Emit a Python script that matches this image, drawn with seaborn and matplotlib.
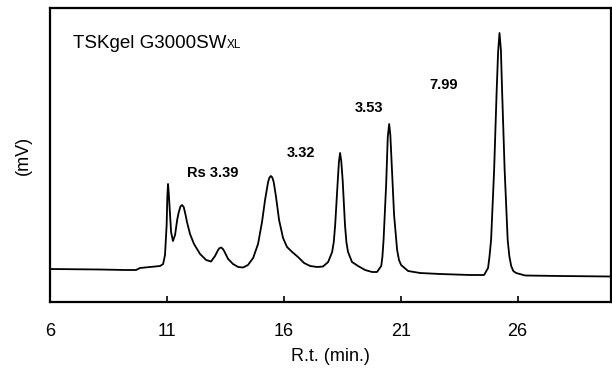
import matplotlib
matplotlib.use("Agg")
import matplotlib.pyplot as plt
import seaborn as sns
import pandas as pd

# Chromatogram trace: retention time (min) and detector signal (arbitrary mV scale)
rt_min = [
    6.00, 8.14, 9.21, 9.68, 9.85, 10.28, 10.71, 10.84, 10.92, 10.99,
    11.02, 11.05, 11.08, 11.11, 11.18, 11.26, 11.35, 11.44, 11.50, 11.58,
    11.65, 11.72, 11.80, 11.86, 11.99, 12.16, 12.42, 12.68, 12.89, 13.06,
    13.19, 13.25, 13.32, 13.39, 13.45, 13.62, 13.83, 14.05, 14.26, 14.47,
    14.69, 14.90, 15.07, 15.20, 15.33, 15.39, 15.45, 15.51, 15.57, 15.67,
    15.80, 15.97, 16.14, 16.36, 16.61, 16.87, 17.13, 17.43, 17.68, 17.90,
    18.07, 18.14, 18.20, 18.30, 18.36, 18.41, 18.46, 18.52, 18.62, 18.68,
    18.75, 18.92, 19.18, 19.48, 19.78, 19.99, 20.17, 20.22, 20.27, 20.38,
    20.45, 20.51, 20.56, 20.61, 20.72, 20.85, 20.93, 21.02, 21.32, 21.83,
    22.69, 23.97, 24.57, 24.74, 24.80, 24.87, 25.00, 25.11, 25.17, 25.23,
    25.29, 25.34, 25.45, 25.58, 25.65, 25.73, 25.82, 25.94, 26.33, 27.83,
    30.00,
]
signal_mv = [
    33.0, 32.5, 32.0, 32.0, 34.0, 35.0, 36.0, 38.0, 47.0, 77.0,
    106.0, 118.0, 109.0, 97.0, 70.0, 61.0, 67.0, 82.0, 89.0, 95.5,
    97.0, 95.0, 87.0, 80.0, 68.0, 58.0, 48.0, 42.0, 40.5, 46.0,
    52.0, 53.8, 54.5, 53.2, 51.0, 43.0, 38.0, 35.0, 34.5, 37.0,
    44.0, 58.0, 80.0, 102.0, 120.0, 124.5, 126.0, 124.5, 120.0, 105.0,
    82.0, 64.0, 55.0, 50.0, 45.0, 39.0, 36.0, 35.0, 35.5, 40.0,
    50.0, 60.0, 77.0, 117.0, 140.0, 149.0, 141.0, 122.0, 77.0, 60.0,
    50.0, 40.0, 36.0, 32.0, 30.0, 30.0, 36.0, 45.0, 62.0, 117.0,
    165.0, 178.0, 167.0, 142.0, 87.0, 52.0, 42.0, 37.0, 31.0, 29.0,
    28.0, 27.0, 27.0, 34.0, 45.0, 62.0, 132.0, 212.0, 250.0, 269.0,
    252.0, 212.0, 132.0, 62.0, 46.0, 36.0, 31.0, 29.0, 26.5, 26.0,
    25.5,
]

# Resolution (Rs) labels between neighbouring peaks
rs_text = ["Rs 3.39", "3.32", "3.53", "7.99"]
rs_rt = [12.98, 16.74, 19.65, 22.86]
rs_level = [129, 149, 194, 217]

x_ticks = [6, 11, 16, 21, 26]

sns.set_theme(style="ticks")
plt.rcParams["font.family"] = ["Liberation Sans", "DejaVu Sans"]

fig = plt.figure(figsize=(6.12, 3.71), dpi=100)
ax = fig.add_axes([50 / 612, 69 / 371, 561 / 612, 294 / 371])

df = pd.DataFrame({"rt": rt_min, "mv": signal_mv})
sns.lineplot(data=df, x="rt", y="mv", ax=ax, color="black", linewidth=1.3,
             sort=False, estimator=None)

ax.set_xlim(6, 30)
ax.set_ylim(0, 294)
ax.set_xticks(x_ticks)
ax.set_xticklabels([str(t) for t in x_ticks], fontsize=13)
ax.set_yticks([])
ax.tick_params(axis="x", direction="in", length=4, width=1.2, pad=15,
               colors="black")
for sp in ax.spines.values():
    sp.set_visible(True)
    sp.set_color("black")
    sp.set_linewidth(1.6)

ax.set_xlabel("R.t. (min.)", fontsize=13, labelpad=6, color="black")
ax.set_ylabel("(mV)", fontsize=13, labelpad=13, color="black")

for txt, x, y in zip(rs_text, rs_rt, rs_level):
    ax.text(x, y, txt, ha="center", va="center", fontsize=10.5,
            fontweight="bold", color="black")

title = ax.text(0.041, 0.863, "TSKgel G3000SW", transform=ax.transAxes,
                fontsize=13.5, ha="left", va="baseline", color="black")
ax.annotate("XL", xy=(1, 0), xycoords=title, xytext=(0.5, 2.9),
            textcoords="offset points", fontsize=8.5, ha="left",
            va="baseline", color="black")

fig.savefig("out.png", dpi=100)
